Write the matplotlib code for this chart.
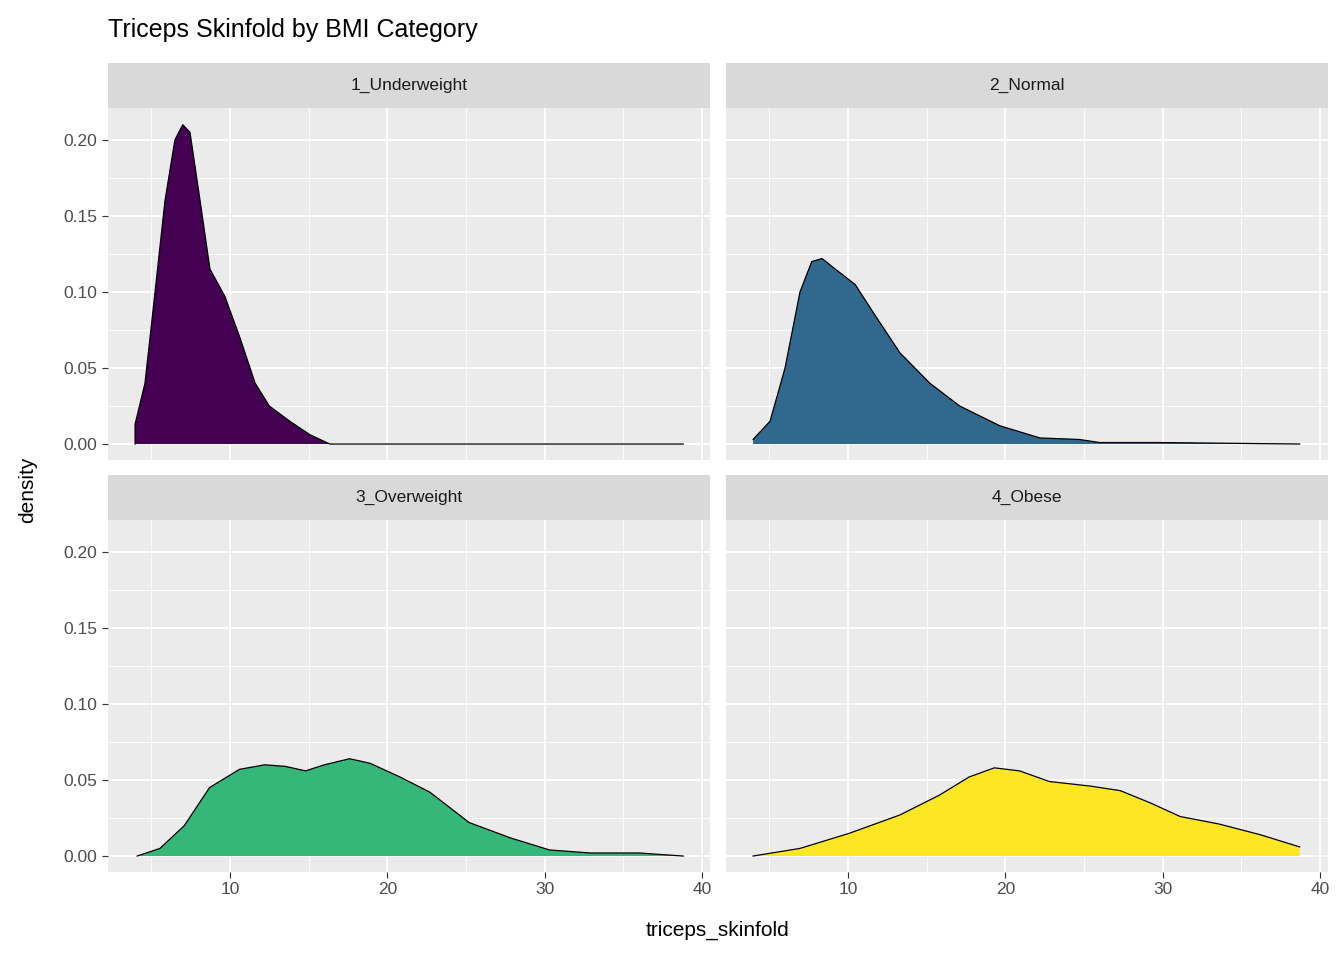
import matplotlib
matplotlib.use("Agg")
import matplotlib.pyplot as plt
from matplotlib.patches import Rectangle

plt.rcParams['font.family'] = ['Liberation Sans', 'DejaVu Sans']

categories = ["1_Underweight", "2_Normal", "3_Overweight", "4_Obese"]
colors = ["#440154", "#31688E", "#35B779", "#FDE725"]

x_under = [3.97, 3.97, 4.6, 5.24, 5.87, 6.5, 7.0, 7.46, 8.1, 8.73, 9.68, 10.63, 11.6, 12.5, 13.8, 15.1, 16.35, 38.8]
y_under = [0.0, 0.013, 0.04, 0.10, 0.16, 0.20, 0.21, 0.205, 0.16, 0.115, 0.097, 0.07, 0.04, 0.025, 0.015, 0.006, 0.0, 0.0]
x_norm = [3.97, 5.05, 6.0, 6.95, 7.7, 8.35, 9.2, 10.45, 11.7, 13.3, 15.2, 17.1, 19.65, 22.2, 24.7, 26.0, 29.8, 38.7]
y_norm = [0.003, 0.015, 0.05, 0.10, 0.12, 0.122, 0.115, 0.105, 0.085, 0.06, 0.04, 0.025, 0.012, 0.004, 0.003, 0.001, 0.001, 0.0]
x_over = [4.1, 5.55, 7.1, 8.7, 10.6, 12.2, 13.5, 14.8, 16.0, 17.6, 18.9, 20.8, 22.7, 25.2, 27.8, 30.3, 32.9, 36.0, 38.8]
y_over = [0.0, 0.005, 0.02, 0.045, 0.057, 0.06, 0.059, 0.056, 0.06, 0.064, 0.061, 0.052, 0.042, 0.022, 0.012, 0.004, 0.002, 0.002, 0.0]
x_obese = [3.97, 6.95, 10.1, 13.3, 15.8, 17.7, 19.3, 20.9, 22.8, 25.4, 27.3, 29.2, 31.1, 33.6, 36.2, 38.7]
y_obese = [0.0, 0.005, 0.015, 0.027, 0.04, 0.052, 0.058, 0.056, 0.049, 0.046, 0.043, 0.035, 0.026, 0.021, 0.014, 0.006]
series = [(x_under, y_under), (x_norm, y_norm), (x_over, y_over), (x_obese, y_obese)]

xticks = [10, 20, 30, 40]
yticks = [0.0, 0.05, 0.10, 0.15, 0.20]
ytick_labels = ["0.00", "0.05", "0.10", "0.15", "0.20"]

W, H = 1344, 960
fig = plt.figure(figsize=(W/100, H/100), dpi=100)

panels = [(108, 108), (726, 108), (108, 520), (726, 520)]  # left, top in px
pw, ph = 602, 352
for i, (l, t) in enumerate(panels):
    ax = fig.add_axes([l/W, 1-(t+ph)/H, pw/W, ph/H])
    ax.set_facecolor("#EBEBEB")
    ax.set_xlim(2.25, 40.5)
    ax.set_ylim(-0.0105, 0.221)
    ax.set_xticks(xticks)
    ax.set_xticks([5, 15, 25, 35], minor=True)
    ax.set_yticks(yticks)
    ax.set_yticks([0.025, 0.075, 0.125, 0.175], minor=True)
    ax.grid(True, which="major", color="white", lw=1.3)
    ax.grid(True, which="minor", color="white", lw=0.6)
    ax.set_axisbelow(True)
    for s in ax.spines.values():
        s.set_visible(False)
    ax.tick_params(which="both", length=0)
    ax.tick_params(which="major", length=4, color="#333333", labelsize=12.5, labelcolor="#4D4D4D")
    if i % 2 == 0:
        ax.set_yticklabels(ytick_labels)
    else:
        ax.set_yticklabels([])
        ax.tick_params(axis="y", length=0)
    if i < 2:
        ax.set_xticklabels([])
        ax.tick_params(axis="x", length=0)
    x, y = series[i]
    ax.fill_between(x, 0, y, facecolor=colors[i], edgecolor="none")
    ax.plot(x, y, color="black", lw=0.9)
    # strip
    sax = fig.add_axes([l/W, 1-t/H, pw/W, 45/H])
    sax.set_xlim(0, 1); sax.set_ylim(0, 1); sax.axis("off")
    sax.add_patch(Rectangle((0, 0), 1, 1, color="#D9D9D9"))
    sax.text(0.5, 0.5, categories[i], ha="center", va="center", fontsize=12.5, color="#1A1A1A")

fig.text(108/W, 1-30/H, "Triceps Skinfold by BMI Category", fontsize=18, va="center", ha="left")
fig.text(717/W, 1-930/H, "triceps_skinfold", fontsize=15, ha="center", va="center")
fig.text(28/W, 1-490/H, "density", fontsize=15, rotation=90, ha="center", va="center")

fig.savefig("out.png", dpi=100, facecolor="white")
